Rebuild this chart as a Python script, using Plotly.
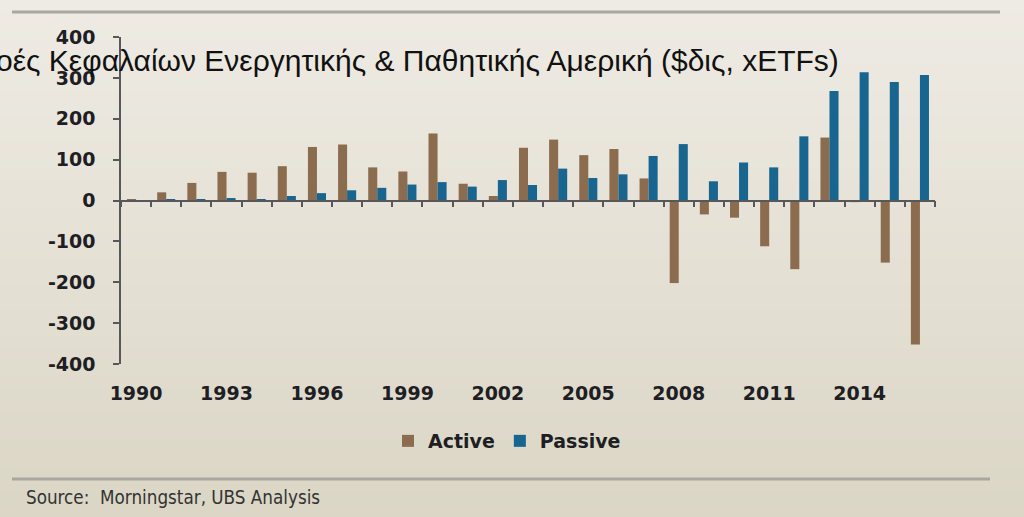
import plotly.graph_objects as go

years = [str(y) for y in range(1990, 2017)]
active = [2, 20, 43, 70, 68, 84, 131, 137, 81, 71, 164, 41, 11,
          129, 149, 111, 126, 54, -202, -34, -42, -112, -168, 154, -4, -152, -352]
passive = [0, 2, 3, 6, 2, 11, 18, 25, 31, 39, 45, 34, 50,
           38, 78, 55, 64, 109, 138, 47, 93, 81, 157, 268, 314, 290, 307]
year_labels = ["1990", "1993", "1996", "1999", "2002", "2005", "2008", "2011", "2014"]
y_ticks = [-400, -300, -200, -100, 0, 100, 200, 300, 400]
y_tick_labels = [str(v) for v in y_ticks]  # plain hyphen, as in the source chart

title_text = "Ροές Κεφαλαίων Ενεργητικής & Παθητικής Αμερική ($δις, xETFs)"
source_text = "Source:  Morningstar, UBS Analysis"

W, H = 1024, 517
L, R, T, B = 121, 89, 37, 153
pw, ph = W - L - R, H - T - B


# pixel -> paper helpers for the decorations around the plot
def px_x(x):
    return (x - L) / pw


def px_y(y):
    return (H - B - y) / ph


fig = go.Figure()
fig.add_trace(go.Bar(x=years, y=active, name="Active", marker_color="#8C6C4F",
                     marker_line_width=0))
fig.add_trace(go.Bar(x=years, y=passive, name="Passive", marker_color="#186590",
                     marker_line_width=0))
# invisible helper so the zero axis (ticks at boundaries) gets drawn
fig.add_trace(go.Scatter(x=years, y=[0] * len(years), xaxis="x2", mode="none",
                         showlegend=False, hoverinfo="skip"))

# background gradient
top = (238, 235, 228)
bot = (219, 214, 197)
n = 40
shapes = []
for i in range(n):
    f = i / (n - 1)
    c = tuple(round(top[k] + (bot[k] - top[k]) * f) for k in range(3))
    shapes.append(dict(type="rect", xref="paper", yref="paper", layer="below",
                       x0=px_x(0), x1=px_x(W), y0=px_y(H * (i + 1) / n + 1), y1=px_y(H * i / n),
                       line_width=0, fillcolor="rgb(%d,%d,%d)" % c))
# grey rules
shapes.append(dict(type="line", xref="paper", yref="paper", x0=px_x(12), x1=px_x(1000),
                   y0=px_y(12), y1=px_y(12), line=dict(color="#A8A7A2", width=3)))
shapes.append(dict(type="line", xref="paper", yref="paper", x0=px_x(12), x1=px_x(990),
                   y0=px_y(479), y1=px_y(479), line=dict(color="#A8A7A2", width=3)))

axis_font = dict(family="DejaVu Sans", size=19, color="#1E1E24", weight="bold")

fig.update_layout(
    width=W, height=H,
    margin=dict(l=L, r=R, t=T, b=B),
    paper_bgcolor="#E6E2D7",
    plot_bgcolor="rgba(0,0,0,0)",
    barmode="group", bargap=0.4, bargroupgap=0,
    shapes=shapes,
    xaxis=dict(type="category", categoryorder="array", categoryarray=years,
               range=[-0.5, len(years) - 0.5],
               tickmode="array", tickvals=year_labels, ticktext=year_labels,
               ticks="", showline=False, showgrid=False, zeroline=False,
               tickfont=axis_font, ticklabelstandoff=16),
    xaxis2=dict(type="category", categoryorder="array", categoryarray=years,
                range=[-0.5, len(years) - 0.5], overlaying="x", anchor="free",
                position=0.5, showline=True, linecolor="#58585A", linewidth=1.5,
                ticks="outside", ticklen=6, tickwidth=1.5, tickcolor="#58585A",
                tickson="boundaries", dtick=1, showticklabels=False, showgrid=False),
    yaxis=dict(range=[-400, 400], tickmode="array", tickvals=y_ticks, ticktext=y_tick_labels,
               showline=True, linecolor="#58585A",
               linewidth=1.5, ticks="outside", ticklen=6, tickwidth=1.5, tickcolor="#58585A",
               showgrid=False, zeroline=False, tickfont=axis_font, ticklabelstandoff=14),
    legend=dict(orientation="h", x=px_x(507), xanchor="center", y=px_y(441),
                yanchor="middle", font=axis_font, bgcolor="rgba(0,0,0,0)",
                itemwidth=30, traceorder="normal"),
    annotations=[
        # the reference crops the start of this heading at the left edge
        dict(text=title_text, xref="paper", yref="paper", x=px_x(841), y=px_y(60),
             xanchor="right", yanchor="middle", showarrow=False,
             font=dict(family="Liberation Sans", size=30, color="#111111")),
        dict(text=source_text, xref="paper", yref="paper", x=px_x(24), y=px_y(497),
             xanchor="left", yanchor="middle", showarrow=False,
             font=dict(family="DejaVu Sans Condensed, DejaVu Sans", size=18.7, color="#333333")),
    ],
)

# the page body has a default 8px margin; drop it so the figure sits at 0,0
fig.write_html("out.html", config={"displayModeBar": False},
               post_script="document.body.style.margin='0px';"
                           "document.body.style.overflow='hidden';")
